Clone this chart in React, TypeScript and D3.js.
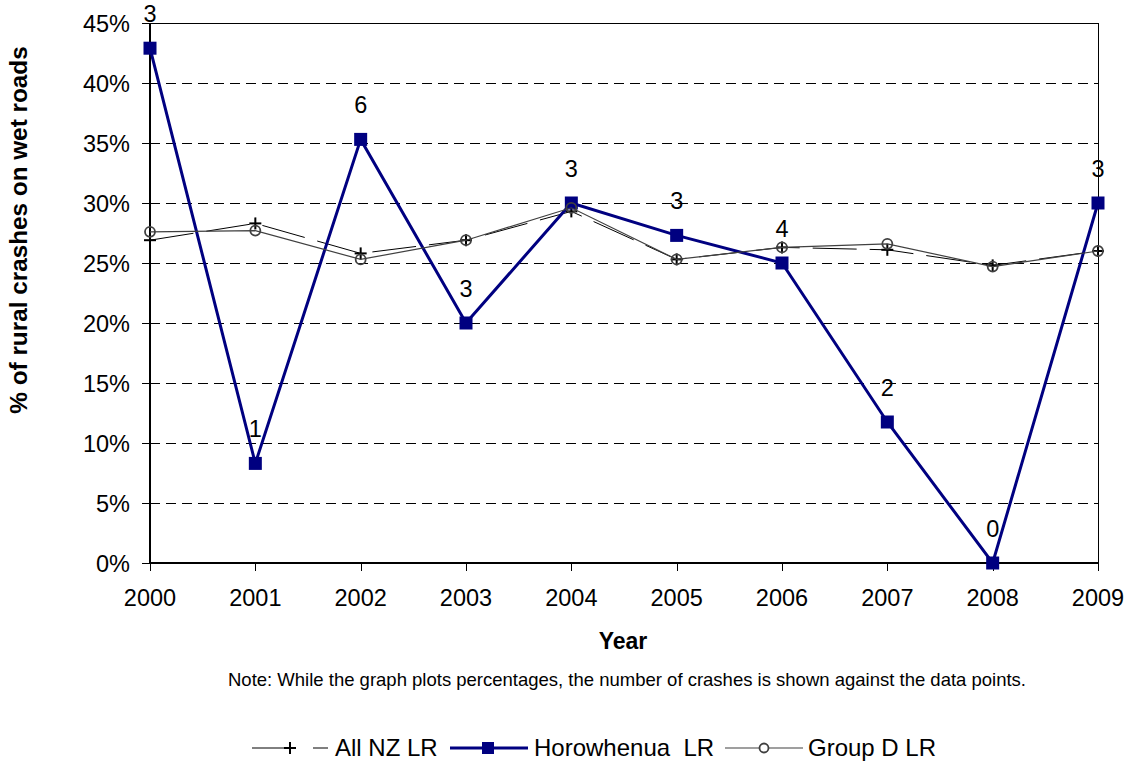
import React from "react";
import * as d3 from "d3";

const years = [2000, 2001, 2002, 2003, 2004, 2005, 2006, 2007, 2008, 2009];
const allNZ = [26.9, 28.3, 25.8, 26.9, 29.3, 25.3, 26.3, 26.1, 24.8, 26.0];
const horowhenua = [42.9, 8.3, 35.3, 20.0, 30.0, 27.3, 25.0, 11.75, 0.0, 30.0];
const groupD = [27.6, 27.7, 25.3, 26.9, 29.6, 25.3, 26.3, 26.6, 24.7, 26.0];
const crashCounts = [3, 1, 6, 3, 3, 3, 4, 2, 0, 3];
const yTicks = [0, 5, 10, 15, 20, 25, 30, 35, 40, 45];

const W = 1132;
const H = 762;
const left = 150;
const right = 1098;
const top = 23;
const bottom = 563;
const FONT = "'Liberation Sans', Arial, sans-serif";
const NAVY = "#000080";
const GRAY = "#404040";

export default function App() {
  const x = d3.scaleLinear().domain([2000, 2009]).range([left, right]);
  const y = d3.scaleLinear().domain([0, 45]).range([bottom, top]);
  const line = d3
    .line<number>()
    .x((_, i) => x(years[i]))
    .y((d) => y(d));

  return (
    <svg
      width={W}
      height={H}
      style={{ position: "absolute", left: 0, top: 0, background: "#fff" }}
      fontFamily={FONT}
    >
      <rect x={0} y={0} width={W} height={H} fill="#fff" />
      {/* grid */}
      {yTicks
        .filter((t) => t > 0 && t < 45)
        .map((t) => (
          <line
            key={"g" + t}
            x1={left}
            x2={right}
            y1={y(t) + 0.5}
            y2={y(t) + 0.5}
            stroke="#000"
            strokeWidth={1}
            strokeDasharray="10,6"
            shapeRendering="crispEdges"
          />
        ))}
      {/* frame */}
      <g shapeRendering="crispEdges" stroke="#000">
        <line x1={left} x2={right} y1={top + 0.5} y2={top + 0.5} strokeWidth={1} />
        <line x1={right + 0.5} x2={right + 0.5} y1={top} y2={bottom} strokeWidth={1} />
        <line x1={left} x2={left} y1={top} y2={bottom} strokeWidth={2} />
        <line x1={left} x2={right} y1={bottom} y2={bottom} strokeWidth={2} />
      </g>
      {/* y ticks */}
      {yTicks.map((t) => (
        <g key={"yt" + t}>
          <line x1={left - 8} x2={left} y1={y(t) + 0.5} y2={y(t) + 0.5} stroke="#000" shapeRendering="crispEdges" />
          <text
            x={130}
            y={y(t) + 8.5}
            textAnchor="end"
            fontSize={23.5}
            fill="#000"
          >
            {t + "%"}
          </text>
        </g>
      ))}
      {/* x ticks */}
      {years.map((yr) => (
        <g key={"xt" + yr}>
          <line x1={x(yr) + 0.5} x2={x(yr) + 0.5} y1={bottom} y2={bottom + 8} stroke="#000" shapeRendering="crispEdges" />
          <text x={x(yr)} y={606} textAnchor="middle" fontSize={23.5} fill="#000">
            {yr}
          </text>
        </g>
      ))}
      {/* axis titles */}
      <text
        transform={`translate(27,230) rotate(-90)`}
        textAnchor="middle"
        fontSize={24.3}
        fontWeight="bold"
        fill="#000"
      >
        % of rural crashes on wet roads
      </text>
      <text x={623} y={649} textAnchor="middle" fontSize={23} fontWeight="bold" fill="#000">
        Year
      </text>
      <text x={627} y={686} textAnchor="middle" fontSize={18.5} fill="#000">
        Note:  While the graph plots percentages, the number of crashes is shown against the data points.
      </text>

      {/* All NZ LR */}
      <path d={line(allNZ) || ""} fill="none" stroke="#000" strokeWidth={1} strokeDasharray="44,13" />
      {allNZ.map((v, i) => (
        <g key={"p" + i} stroke="#000" strokeWidth={2}>
          <line x1={x(years[i]) - 6} x2={x(years[i]) + 6} y1={y(v)} y2={y(v)} />
          <line x1={x(years[i])} x2={x(years[i])} y1={y(v) - 6} y2={y(v) + 6} />
        </g>
      ))}

      {/* Horowhenua LR */}
      <path d={line(horowhenua) || ""} fill="none" stroke={NAVY} strokeWidth={3} />
      {horowhenua.map((v, i) => (
        <rect
          key={"s" + i}
          x={x(years[i]) - 6.5}
          y={y(v) - 6.5}
          width={13}
          height={13}
          fill={NAVY}
        />
      ))}

      {/* Group D LR */}
      <path d={line(groupD) || ""} fill="none" stroke={GRAY} strokeWidth={1.2} />
      {groupD.map((v, i) => (
        <circle
          key={"c" + i}
          cx={x(years[i])}
          cy={y(v)}
          r={5}
          fill="none"
          stroke={GRAY}
          strokeWidth={1.8}
        />
      ))}

      {/* data labels */}
      {horowhenua.map((v, i) => (
        <text
          key={"l" + i}
          x={x(years[i])}
          y={y(v) - 26}
          textAnchor="middle"
          fontSize={23.5}
          fill="#000"
        >
          {crashCounts[i]}
        </text>
      ))}

      {/* legend */}
      <g>
        <line x1={252} x2={300} y1={748} y2={748} stroke="#000" strokeWidth={1} strokeDasharray="36,25,15" />
        <line x1={284} x2={296} y1={748} y2={748} stroke="#000" strokeWidth={2} />
        <line x1={290} x2={290} y1={742} y2={754} stroke="#000" strokeWidth={2} />
        <line x1={313} x2={328} y1={748} y2={748} stroke="#000" strokeWidth={1} />
        <text x={335} y={756} fontSize={24} fill="#000">All NZ LR</text>

        <line x1={450} x2={528} y1={748} y2={748} stroke={NAVY} strokeWidth={3} />
        <rect x={482} y={742} width={12} height={12} fill={NAVY} />
        <text x={534} y={756} fontSize={24} fill="#000" xmlSpace="preserve">
          Horowhenua  LR
        </text>

        <line x1={725} x2={803} y1={748} y2={748} stroke={GRAY} strokeWidth={1.2} />
        <circle cx={764} cy={748} r={4.5} fill="#fff" stroke={GRAY} strokeWidth={1.8} />
        <text x={808} y={756} fontSize={24} fill="#000">Group D LR</text>
      </g>
    </svg>
  );
}
